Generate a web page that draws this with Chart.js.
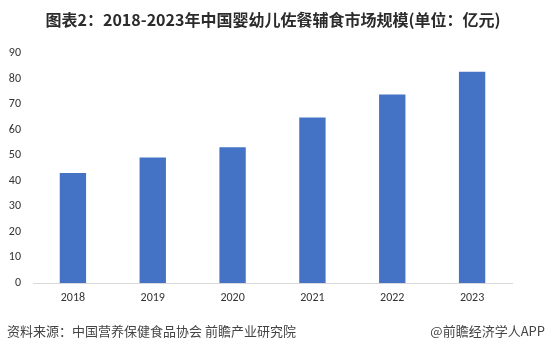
<!DOCTYPE html>
<html>
<head>
<meta charset="utf-8">
<script src="https://cdn.jsdelivr.net/npm/chart.js@4/dist/chart.umd.min.js"></script>
<style>
html,body{margin:0;padding:0;background:#fff;}
#wrap{position:relative;width:546px;height:351px;}
canvas{display:block;}
</style>
</head>
<body>
<div id="wrap"><canvas id="c" width="546" height="351"></canvas></div>
<script>
const titleText = '图表2：2018-2023年中国婴幼儿佐餐辅食市场规模(单位：亿元)';
const sourceText = '资料来源：中国营养保健食品协会 前瞻产业研究院';
const brandText = '@前瞻经济学人APP';
const categories = ['2018', '2019', '2020', '2021', '2022', '2023'];
const marketSize = [43.0, 49.1, 53.1, 64.8, 73.8, 82.7];
const yTicks = [0, 10, 20, 30, 40, 50, 60, 70, 80, 90];

const cjk = '"Noto Sans CJK SC", "Microsoft YaHei", sans-serif';

const textPlugin = {
  id: 'texts',
  afterDraw(chart) {
    const ctx = chart.ctx;
    ctx.save();
    ctx.fillStyle = '#2b2b2b';
    ctx.font = 'bold 16px ' + cjk;
    ctx.textAlign = 'center';
    ctx.textBaseline = 'middle';
    ctx.fillText(titleText, 273, 20);
    ctx.font = '13px ' + cjk;
    ctx.fillStyle = '#444444';
    ctx.textAlign = 'left';
    ctx.fillText(sourceText, 7, 331);
    ctx.textAlign = 'right';
    ctx.fillText(brandText, 545, 331);
    ctx.restore();
  }
};

const tickFont = { family: 'Carlito, "Liberation Sans", sans-serif', size: 12 };

new Chart(document.getElementById('c'), {
  type: 'bar',
  data: {
    labels: categories,
    datasets: [{
      data: marketSize,
      backgroundColor: '#4472C4',
      borderWidth: 0,
      barPercentage: 0.33,
      categoryPercentage: 1.0
    }]
  },
  options: {
    responsive: false,
    animation: false,
    devicePixelRatio: 1,
    layout: { padding: { top: 53, right: 34, bottom: 38, left: 0 } },
    plugins: { legend: { display: false }, tooltip: { enabled: false }, title: { display: false } },
    scales: {
      x: {
        grid: { display: false, drawTicks: false },
        border: { display: true, color: '#d9d9d9', width: 1 },
        ticks: { color: '#333333', font: tickFont, padding: 8, maxRotation: 0 },
        afterFit(s) { s.height = 30; }
      },
      y: {
        min: 0, max: 90,
        afterBuildTicks(s) { s.ticks = yTicks.map(v => ({ value: v })); },
        grid: { display: false, drawTicks: false },
        border: { display: false },
        ticks: { color: '#333333', font: tickFont, padding: 12 },
        afterFit(s) { s.width = 33; }
      }
    }
  },
  plugins: [textPlugin]
});
</script>
</body>
</html>
